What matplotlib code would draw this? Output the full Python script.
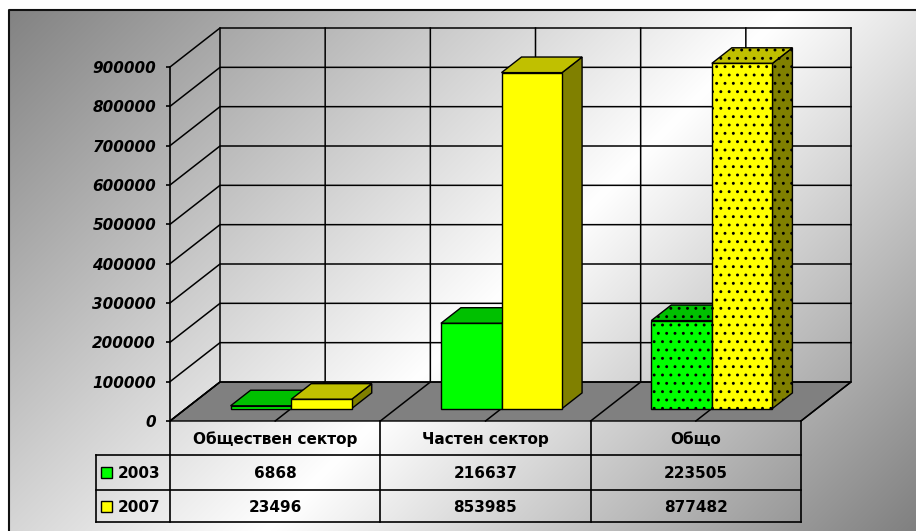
import numpy as np
import matplotlib.pyplot as plt
from matplotlib.patches import Polygon, Rectangle
from matplotlib.transforms import blended_transform_factory

# data
categories = ["Обществен сектор", "Частен сектор", "Общо"]
years = ["2003", "2007"]
values_2003 = [6868, 216637, 223505]
values_2007 = [23496, 853985, 877482]
y_ticks = list(range(0, 900001, 100000))

plt.rcParams['font.family'] = ['DejaVu Sans']
plt.rcParams['hatch.linewidth'] = 0.9

W, H = 916, 531
fig = plt.figure(figsize=(W / 100, H / 100), dpi=100)

# gradient background with the chart frame
bg = fig.add_axes([0, 0, 1, 1], zorder=-10)
bg.set_xlim(0, W)
bg.set_ylim(H, 0)
bg.axis('off')
xx, yy = np.meshgrid(np.arange(W), np.arange(H))
t = (xx + yy) / (W + H)
g = np.where(t < 0.55, 0.5 + 0.5 * t / 0.55, 1 - 0.5 * (t - 0.55) / 0.45)
img = np.dstack([g, g, g])
img[(yy < 10) | (xx < 9)] = 1.0
bg.imshow(img, extent=(0, W, H, 0), aspect='auto', interpolation='bilinear')
bg.plot([9, 9, W], [H, 10, 10], color='#111111', lw=1.5)

# front plane of the 3d plot
ax = fig.add_axes([170 / W, 110 / H, 631 / W, 354 / H])
ax.set_xlim(0, 3)
ax.set_ylim(0, 900000)
ax.set_facecolor('none')
for s in ['top', 'right', 'bottom']:
    ax.spines[s].set_visible(False)
ax.spines['left'].set_linewidth(1.2)
ax.set_xticks([])
ax.set_yticks(y_ticks)
ax.set_yticklabels([str(v) for v in y_ticks], fontweight='bold',
                   fontstyle='italic', fontsize=11)
ax.tick_params(axis='y', direction='out', length=3, width=1.2, pad=7)

# depth vector (pixels -> data units)
p0 = ax.transData.transform((0, 0))
ddx, ddy = ax.transData.inverted().transform(p0 + np.array([50, 39]))


def P(x, v, f):
    return (x + f * ddx, v + f * ddy)


def poly(pts, fc, z, hatch=None, ec='black'):
    ax.add_patch(Polygon(pts, closed=True, facecolor=fc, edgecolor=ec, lw=1.0,
                         hatch=hatch, zorder=z, clip_on=False))


# floor
poly([P(0, 0, 0), P(3, 0, 0), P(3, 0, 1), P(0, 0, 1)], '#808080', 1)

# walls / gridlines
for v in y_ticks:
    pts = [P(0, v, 0), P(0, v, 1), P(3, v, 1)]
    ax.plot(*zip(*pts), color='black', lw=1.1, zorder=1.5, clip_on=False)
for x in np.arange(0, 3.01, 0.5):
    pts = [P(x, 0, 0), P(x, 0, 1), P(x, 900000, 1)]
    ax.plot(*zip(*pts), color='black', lw=1.1, zorder=1.5, clip_on=False)

# bars
bar_w = 0.288
f0, f1 = 0.32, 0.72
series = [
    (values_2003, '#00FF00', '#00C000', '#008000'),
    (values_2007, '#FFFF00', '#C0C000', '#808000'),
]
z = 3
for i in range(len(categories)):
    hatch = '..' if i == 2 else None
    for j, (vals, c_front, c_top, c_side) in enumerate(series):
        v = vals[i]
        x0 = i + 0.5 - bar_w + j * bar_w
        x1 = x0 + bar_w
        poly([P(x1, 0, f0), P(x1, 0, f1), P(x1, v, f1), P(x1, v, f0)], c_side, z, hatch)
        poly([P(x0, v, f0), P(x1, v, f0), P(x1, v, f1), P(x0, v, f1)], c_top, z, hatch)
        poly([P(x0, 0, f0), P(x1, 0, f0), P(x1, v, f0), P(x0, v, f0)], c_front, z, hatch)
        z += 1

# data table below the floor
tr = blended_transform_factory(ax.transData, ax.transAxes)
ah = ax.bbox.height
cw = ax.bbox.width / 3
rows_px = [0, 34, 69, 101]
ry = [-r / ah for r in rows_px]
x_leg = -74 / cw
lk = dict(color='black', lw=1.2, transform=tr, clip_on=False, zorder=10)
for x in range(4):
    ax.plot([x, x], [ry[0], ry[3]], **lk)
for y in ry[1:]:
    ax.plot([x_leg, 3], [y, y], **lk)
ax.plot([x_leg, x_leg], [ry[1], ry[3]], **lk)

tk = dict(transform=tr, fontsize=11, fontweight='bold', va='center_baseline',
          clip_on=False, zorder=11)
for i, cat in enumerate(categories):
    ax.text(i + 0.5, (ry[0] + ry[1]) / 2, cat, ha='center', **tk)
    ax.text(i + 0.5, (ry[1] + ry[2]) / 2, str(values_2003[i]), ha='center', **tk)
    ax.text(i + 0.5, (ry[2] + ry[3]) / 2, str(values_2007[i]), ha='center', **tk)

for k, (yr, color) in enumerate(zip(years, ['#00FF00', '#FFFF00'])):
    ymid = (ry[k + 1] + ry[k + 2]) / 2
    ax.add_patch(Rectangle((-69 / cw, ymid - 5.5 / ah), 11 / cw, 11 / ah,
                           facecolor=color, edgecolor='black', lw=1.0,
                           transform=tr, clip_on=False, zorder=11))
    ax.text(-52 / cw, ymid, yr, ha='left', **tk)

fig.savefig('out.png', dpi=100)
